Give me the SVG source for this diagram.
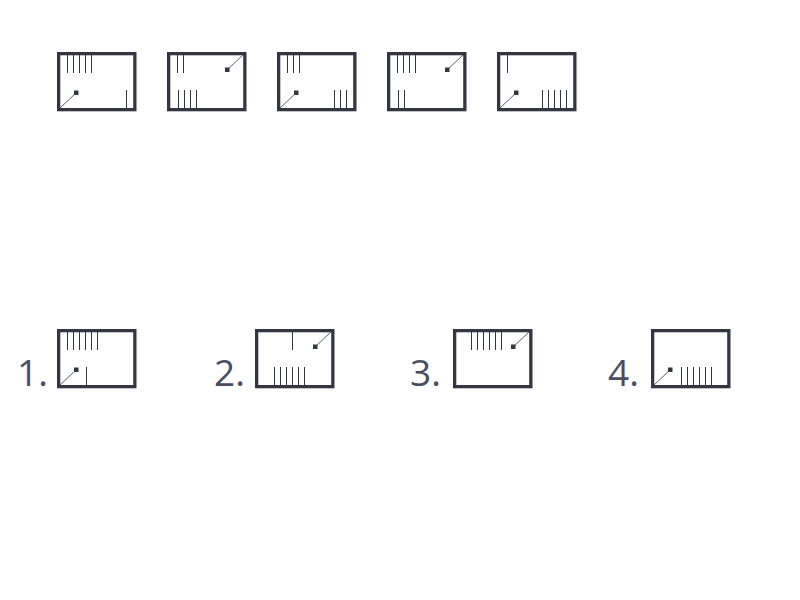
<svg xmlns="http://www.w3.org/2000/svg" width="800" height="600" viewBox="0 0 800 600">
<style>
.frame{fill:none;stroke:#343741;stroke-width:3.3}
.tick{fill:none;stroke:#343741;stroke-width:1}
.diag{fill:none;stroke:#5a5d66;stroke-width:1}
.sq{fill:#343741}
.lbl{font-family:"Open Sans",sans-serif;font-size:37px;fill:#4a4e63}
</style>
<defs>
<rect id="fr" class="frame" x="1.65" y="1.65" width="76.2" height="56" />
<g id="bl"><path class="diag" d="M3,56 L19,41"/><rect class="sq" x="17" y="38.5" width="4.5" height="4.5"/></g>
<g id="tr"><path class="diag" d="M60,18 L76,3"/><rect class="sq" x="58" y="15.5" width="4.5" height="4.5"/></g>
</defs>
<rect width="800" height="600" fill="#ffffff"/>
<g id="option-a" transform="translate(57,52)">
<use href="#fr"/><use href="#bl"/>
<path class="tick" d="M10.5,3V21M16.5,3V21M22.5,3V21M28.5,3V21M34.5,3V21M69.5,38V56"/>
</g>
<g id="option-b" transform="translate(167,52)">
<use href="#fr"/><use href="#tr"/>
<path class="tick" d="M10.5,3V21M16.5,3V21M11.5,38V56M17.5,38V56M23.5,38V56M29.5,38V56"/>
</g>
<g id="option-c" transform="translate(277,52)">
<use href="#fr"/><use href="#bl"/>
<path class="tick" d="M10.5,3V21M16.5,3V21M22.5,3V21M57.5,38V56M63.5,38V56M69.5,38V56"/>
</g>
<g id="option-d" transform="translate(387,52)">
<use href="#fr"/><use href="#tr"/>
<path class="tick" d="M10.5,3V21M16.5,3V21M22.5,3V21M28.5,3V21M11.5,38V56M17.5,38V56"/>
</g>
<g id="option-e" transform="translate(497,52)">
<use href="#fr"/><use href="#bl"/>
<path class="tick" d="M10.5,3V21M45.5,38V56M51.5,38V56M57.5,38V56M63.5,38V56M69.5,38V56"/>
</g>
<g id="answer-1">
<text class="lbl" x="17" y="386">1.</text>
<g transform="translate(57,329)">
<use href="#fr"/><use href="#bl"/>
<path class="tick" d="M10.5,3V21M16.5,3V21M22.5,3V21M28.5,3V21M34.5,3V21M40.5,3V21M29.5,38V56"/>
</g>
</g>
<g id="answer-2">
<text class="lbl" x="214" y="386">2.</text>
<g transform="translate(255,329)">
<use href="#fr"/><use href="#tr"/>
<path class="tick" d="M37.5,3V21M19.5,38V56M25.5,38V56M31.5,38V56M37.5,38V56M43.5,38V56M49.5,38V56"/>
</g>
</g>
<g id="answer-3">
<text class="lbl" x="410" y="386">3.</text>
<g transform="translate(453,329)">
<use href="#fr"/><use href="#tr"/>
<path class="tick" d="M18.5,3V21M24.5,3V21M30.5,3V21M36.5,3V21M42.5,3V21M48.5,3V21"/>
</g>
</g>
<g id="answer-4">
<text class="lbl" x="608" y="386">4.</text>
<g transform="translate(651,329)">
<use href="#fr"/><use href="#bl"/>
<path class="tick" d="M30.5,38V56M36.5,38V56M42.5,38V56M48.5,38V56M54.5,38V56M60.5,38V56"/>
</g>
</g>
<g id="connectors"/>
</svg>
